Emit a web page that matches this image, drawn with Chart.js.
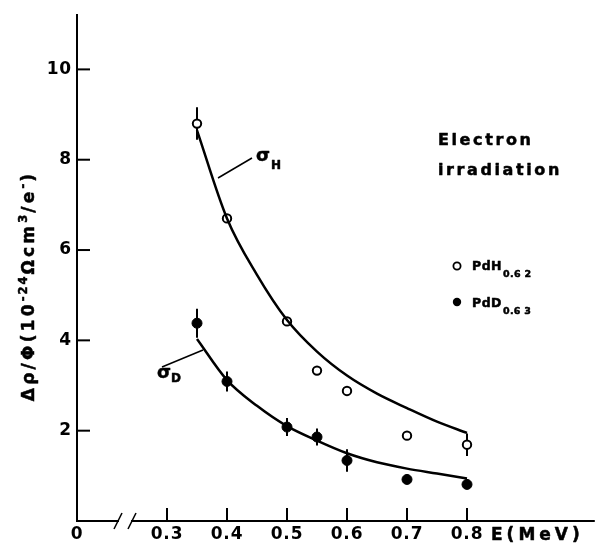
<!DOCTYPE html>
<html><head><meta charset="utf-8">
<script src="https://cdn.jsdelivr.net/npm/chart.js@4.4.0/dist/chart.umd.min.js"></script>
<style>html,body{margin:0;padding:0;background:#fff;}#wrap{width:601px;height:543px;position:relative}</style>
</head><body><div id="wrap"><canvas id="c" width="601" height="543"></canvas></div>
<script>
// Measured data (E in MeV, Δρ/Φ in 10^-24 Ωcm^3/e^-)
const energies = [0.35, 0.4, 0.5, 0.55, 0.6, 0.7, 0.8];
const pdH = [8.8, 6.7, 4.42, 3.33, 2.88, 1.89, 1.69];
const pdHErr = [0.36, 0, 0, 0, 0, 0, 0.25];
const pdD = [4.38, 3.09, 2.08, 1.86, 1.34, 0.92, 0.81];
const pdDErr = [0.32, 0.22, 0.2, 0.19, 0.25, 0, 0];
// Fitted curves
const fitE = [0.35, 0.4, 0.45, 0.5, 0.55, 0.6, 0.65, 0.7, 0.75, 0.8];
const sigmaH = [8.65, 6.7, 5.45, 4.45, 3.75, 3.22, 2.82, 2.5, 2.2, 1.95];
const sigmaD = [4.03, 3.12, 2.55, 2.1, 1.78, 1.5, 1.3, 1.16, 1.05, 0.94];
// Axis ticks
const xTicks = [0.15, 0.3, 0.4, 0.5, 0.6, 0.7, 0.8];
const xTickLabels = ['0', '0.3', '0.4', '0.5', '0.6', '0.7', '0.8'];
const yTicks = [2, 4, 6, 8, 10];

const FONT = '"DejaVu Sans", "Liberation Sans", Arial, sans-serif';

function drawRich(ctx, x, y, pieces) {
  let cx = x;
  ctx.lineWidth = 0.5;
  ctx.lineJoin = 'round';
  pieces.forEach(p => {
    ctx.font = 'bold ' + p.size + 'px ' + FONT;
    ctx.letterSpacing = (p.ls || 0) + 'px';
    ctx.fillText(p.t, cx, y + (p.dy || 0));
    ctx.strokeText(p.t, cx, y + (p.dy || 0));
    cx += ctx.measureText(p.t).width + (p.gap || 0);
  });
  return cx - x;
}
function richWidth(ctx, pieces) {
  let w = 0;
  pieces.forEach(p => {
    ctx.font = 'bold ' + p.size + 'px ' + FONT;
    ctx.letterSpacing = (p.ls || 0) + 'px';
    w += ctx.measureText(p.t).width + (p.gap || 0);
  });
  return w;
}

const decor = {
  id: 'decor',
  beforeDraw(chart) { chart.ctx.letterSpacing = '0.8px'; },
  beforeDatasetsDraw(chart) {
    const { ctx, scales: { x, y } } = chart;
    ctx.save();
    ctx.strokeStyle = '#000'; ctx.lineWidth = 2;
    energies.forEach((e, i) => {
      [[pdH, pdHErr], [pdD, pdDErr]].forEach(([v, err]) => {
        if (err[i] > 0) {
          const px = x.getPixelForValue(e);
          ctx.beginPath();
          ctx.moveTo(px, y.getPixelForValue(v[i] - err[i]));
          ctx.lineTo(px, y.getPixelForValue(v[i] + err[i]));
          ctx.stroke();
        }
      });
    });
    ctx.restore();
  },
  afterDraw(chart) {
    const { ctx, chartArea: ca, scales: { x, y } } = chart;
    ctx.save();
    ctx.strokeStyle = '#000'; ctx.fillStyle = '#000'; ctx.lineWidth = 2;
    // inner tick marks
    yTicks.forEach(v => {
      const py = y.getPixelForValue(v);
      ctx.beginPath(); ctx.moveTo(ca.left, py); ctx.lineTo(ca.left + 13, py); ctx.stroke();
    });
    xTicks.slice(1).forEach(v => {
      const px = x.getPixelForValue(v);
      ctx.beginPath(); ctx.moveTo(px, ca.bottom); ctx.lineTo(px, ca.bottom - 13); ctx.stroke();
    });
    // x axis with break
    const b1 = 119, b2 = 131;
    ctx.beginPath(); ctx.moveTo(ca.left - 1, ca.bottom); ctx.lineTo(b1, ca.bottom); ctx.stroke();
    ctx.beginPath(); ctx.moveTo(b2, ca.bottom); ctx.lineTo(ca.right, ca.bottom); ctx.stroke();
    ctx.lineWidth = 1.6;
    [b1 - 1, b2 + 1].forEach(bx => {
      ctx.beginPath(); ctx.moveTo(bx - 4, ca.bottom + 8); ctx.lineTo(bx + 4, ca.bottom - 8); ctx.stroke();
    });
    ctx.textBaseline = 'alphabetic';
    ctx.textAlign = 'left';
    // x axis title
    drawRich(ctx, 491, 540, [{ t: 'E(MeV)', size: 17, ls: 4 }]);
    // y axis title (rotated)
    const yt = [
      { t: 'Δρ/Φ(10', size: 17, ls: 3.2 },
      { t: '-24', size: 11.5, ls: 2, dy: -7 },
      { t: 'Ωcm', size: 17, ls: 3.2 },
      { t: '3', size: 11.5, ls: 2, dy: -7 },
      { t: '/e', size: 17, ls: 3.2 },
      { t: '-', size: 11.5, ls: 2, dy: -7 },
      { t: ')', size: 17, ls: 3.2 }
    ];
    ctx.save();
    ctx.translate(34, 286); ctx.rotate(-Math.PI / 2);
    const w = richWidth(ctx, yt);
    drawRich(ctx, -w / 2, 0, yt);
    ctx.restore();
    // curve labels
    ctx.lineWidth = 1.5;
    ctx.beginPath(); ctx.moveTo(218, 178); ctx.lineTo(252, 158); ctx.stroke();
    drawRich(ctx, 256, 161, [{ t: 'σ', size: 18, ls: 0, gap: 1 }, { t: 'H', size: 12, ls: 0, dy: 8 }]);
    ctx.lineWidth = 1.5;
    ctx.beginPath(); ctx.moveTo(162, 367); ctx.lineTo(203, 350); ctx.stroke();
    drawRich(ctx, 157, 378, [{ t: 'σ', size: 18, ls: 0, gap: 0 }, { t: 'D', size: 12, ls: 0, dy: 4 }]);
    // Electron irradiation
    drawRich(ctx, 438, 145, [{ t: 'Electron', size: 16, ls: 2.6 }]);
    drawRich(ctx, 438, 175, [{ t: 'irradiation', size: 16, ls: 2.6 }]);
    // legend
    ctx.lineWidth = 1.8;
    ctx.beginPath(); ctx.arc(457, 266, 3.6, 0, Math.PI * 2); ctx.fillStyle = '#fff'; ctx.fill(); ctx.stroke();
    ctx.fillStyle = '#000';
    drawRich(ctx, 472, 270, [{ t: 'PdH', size: 12.5, ls: 0.5, gap: 1 }, { t: '0.6 2', size: 9.5, ls: 0.3, dy: 7 }]);
    ctx.beginPath(); ctx.arc(457, 302, 4.2, 0, Math.PI * 2); ctx.fill();
    drawRich(ctx, 472, 307, [{ t: 'PdD', size: 12.5, ls: 0.5, gap: 1 }, { t: '0.6 3', size: 9.5, ls: 0.3, dy: 7 }]);
    ctx.restore();
  }
};

const ptsH = energies.map((e, i) => ({ x: e, y: pdH[i] }));
const ptsD = energies.map((e, i) => ({ x: e, y: pdD[i] }));
const curveH = fitE.map((e, i) => ({ x: e, y: sigmaH[i] }));
const curveD = fitE.map((e, i) => ({ x: e, y: sigmaD[i] }));

new Chart(document.getElementById('c'), {
  type: 'scatter',
  data: {
    datasets: [
      { label: 'σH', data: curveH, showLine: true, borderColor: '#000', borderWidth: 2.5, pointRadius: 0, cubicInterpolationMode: 'monotone', fill: false },
      { label: 'σD', data: curveD, showLine: true, borderColor: '#000', borderWidth: 2.5, pointRadius: 0, cubicInterpolationMode: 'monotone', fill: false },
      { label: 'PdH0.62', data: ptsH, showLine: false, pointRadius: 4.2, pointBorderWidth: 2, pointBackgroundColor: '#fff', pointBorderColor: '#000' },
      { label: 'PdD0.63', data: ptsD, showLine: false, pointRadius: 5, pointBorderWidth: 1, pointBackgroundColor: '#000', pointBorderColor: '#000' }
    ]
  },
  options: {
    responsive: false,
    animation: false,
    events: [],
    layout: { padding: { top: 6, right: 0, left: 0, bottom: 0 } },
    plugins: { legend: { display: false }, tooltip: { enabled: false } },
    scales: {
      x: {
        type: 'linear', min: 0.15, max: 1.013,
        afterBuildTicks: a => { a.ticks = xTicks.map(v => ({ value: v })); },
        afterFit: s => { s.height = 22; },
        ticks: {
          autoSkip: false, maxRotation: 0, padding: 3, color: '#000',
          font: { family: FONT, size: 17, weight: 'bold' },
          callback: v => xTickLabels[xTicks.indexOf(v)]
        },
        grid: { display: true, drawOnChartArea: false, drawTicks: false },
        border: { display: false }
      },
      y: {
        type: 'linear', min: 0, max: 11.2,
        afterBuildTicks: a => { a.ticks = yTicks.map(v => ({ value: v })); },
        afterFit: s => { s.width = 77; },
        ticks: {
          padding: 5, color: '#000',
          font: { family: FONT, size: 17, weight: 'bold' },
          callback: v => String(v)
        },
        grid: { display: true, drawOnChartArea: false, drawTicks: false },
        border: { display: true, color: '#000', width: 2 }
      }
    }
  },
  plugins: [decor]
});
</script>
</body></html>
